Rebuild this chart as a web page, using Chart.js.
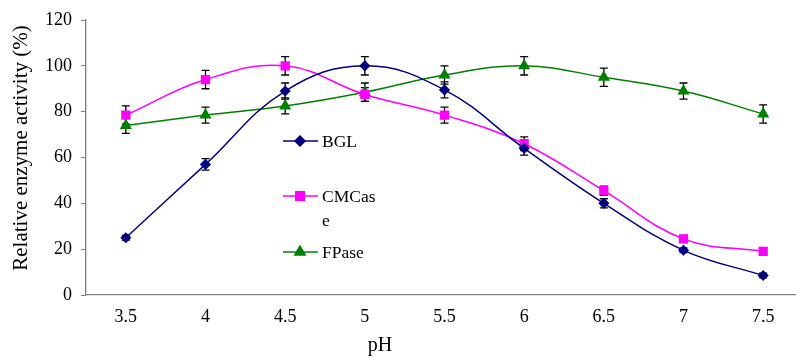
<!DOCTYPE html>
<html>
<head>
<meta charset="utf-8">
<script src="https://cdn.jsdelivr.net/npm/chart.js@4/dist/chart.umd.min.js"></script>
<style>
  html,body{margin:0;padding:0;background:#fff;overflow:hidden;}
  #wrap{position:relative;width:810px;height:358px;}
</style>
</head>
<body>
<div id="wrap"><canvas id="c" width="810" height="358"></canvas></div>
<script>
const phLabels = ['3.5','4','4.5','5','5.5','6','6.5','7','7.5'];
const bgl    = [25, 57, 89, 100, 89.5, 64, 40, 19.5, 8.5];
const bglErr = [1, 2.5, 3.5, 4, 3.5, 3, 2, 1, 1];
const cmc    = [78.5, 94, 100, 87.5, 78.5, 66, 45.5, 24.5, 19];
const cmcErr = [4, 4, 4, 3, 3.5, 3, 2, 1.5, 1];
const fpa    = [74, 78.5, 82.5, 88.5, 96, 100, 95, 89, 79];
const fpaErr = [3.5, 3.5, 3.5, 4, 4, 4, 4, 3.5, 4];
const yTicks = [0, 20, 40, 60, 80, 100, 120];
const xTitle = 'pH';
const yTitle = 'Relative enzyme activity (%)';

const serif = '"Liberation Serif", "Times New Roman", serif';

// error bars drawn from the scales
const errBars = {
  id: 'errBars',
  beforeDatasetsDraw(chart){
    const {ctx, scales:{x, y}} = chart;
    ctx.save();
    ctx.strokeStyle = '#000';
    ctx.lineWidth = 1.3;
    chart.data.datasets.forEach(ds=>{
      ds.data.forEach((v,i)=>{
        const e = ds.err[i];
        if(!e) return;
        const px = x.getPixelForValue(i);
        const t = y.getPixelForValue(v+e), b = y.getPixelForValue(v-e);
        ctx.beginPath();
        ctx.moveTo(px,t); ctx.lineTo(px,b);
        ctx.moveTo(px-4,t); ctx.lineTo(px+4,t);
        ctx.moveTo(px-4,b); ctx.lineTo(px+4,b);
        ctx.stroke();
      });
    });
    ctx.restore();
  }
};

// legend inside the plot + axis titles
const inLegend = {
  id: 'inLegend',
  afterDraw(chart){
    const {ctx} = chart;
    const items = [
      {ds:0, y:141, r:5, text:['BGL']},
      {ds:1, y:196, r:6, text:['CMCas','e']},
      {ds:2, y:252, r:6, text:['FPase']}
    ];
    ctx.save();
    ctx.font = '17.5px ' + serif;
    ctx.textBaseline = 'middle';
    items.forEach(it=>{
      const ds = chart.data.datasets[it.ds];
      ctx.strokeStyle = ds.borderColor;
      ctx.lineWidth = 1.5;
      ctx.beginPath(); ctx.moveTo(283, it.y); ctx.lineTo(318, it.y); ctx.stroke();
      Chart.helpers.drawPoint(ctx, {pointStyle: ds.pointStyle, radius: it.r, borderWidth: 1}, 300, it.y);
      ctx.fillStyle = ds.borderColor;
      ctx.fill();
      ctx.fillStyle = '#000';
      it.text.forEach((t,k)=> ctx.fillText(t, 322, it.y + 1 + k*24));
    });

    // axis titles
    ctx.fillStyle = '#000';
    ctx.textAlign = 'center';
    ctx.font = '20px ' + serif;
    ctx.fillText(xTitle, 380, 346);
    ctx.translate(21, 148);
    ctx.rotate(-Math.PI/2);
    ctx.font = '21px ' + serif;
    ctx.fillText(yTitle, 0, 0);
    ctx.restore();
  }
};

new Chart(document.getElementById('c'), {
  type: 'line',
  data: {
    labels: phLabels,
    datasets: [
      { label:'BGL', data:bgl, err:bglErr, borderColor:'#000080', backgroundColor:'#000080',
        pointStyle:'rectRot', pointRadius:4.5, borderWidth:1.5, tension:0.4 },
      { label:'CMCase', data:cmc, err:cmcErr, borderColor:'#FF00FF', backgroundColor:'#FF00FF',
        pointStyle:'rect', pointRadius:5.5, borderWidth:1.5, tension:0.4 },
      { label:'FPase', data:fpa, err:fpaErr, borderColor:'#008000', backgroundColor:'#008000',
        pointStyle:'triangle', pointRadius:5.5, borderWidth:1.5, tension:0.4 }
    ]
  },
  options: {
    responsive: false,
    animation: false,
    layout: { padding: { top: 20, right: 6, left: 0, bottom: 0 } },
    plugins: { legend: { display:false }, tooltip: { enabled:false } },
    scales: {
      x: {
        offset: true,
        grid: { display:false, drawOnChartArea:false, drawTicks:true, offset:true, tickLength:6, color:'#808080' },
        border: { color:'#808080', width:1.3 },
        ticks: { color:'#000', font:{ family:serif, size:18 }, padding:5 },
        afterFit(s){ s.height = 63; }
      },
      y: {
        min: 0, max: 120,
        afterBuildTicks(s){ s.ticks = yTicks.map(v=>({value:v})); },
        grid: { drawOnChartArea:false, tickLength:5, color:'#808080' },
        border: { color:'#808080', width:1.3 },
        ticks: { color:'#000', font:{ family:serif, size:18 }, padding:9 },
        afterFit(s){ s.width = 86; }
      }
    }
  },
  plugins: [errBars, inLegend]
});
</script>
</body>
</html>
